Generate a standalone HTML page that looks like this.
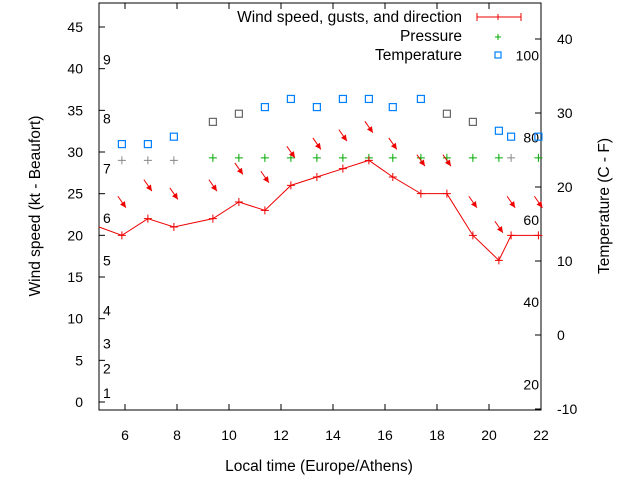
<!DOCTYPE html>
<html><head><meta charset="utf-8"><style>
body{margin:0;background:#fff}
svg{display:block;font-family:"Liberation Sans",sans-serif;font-size:14px}
.w{font-size:15.5px}
</style></head><body>
<svg id="chart" width="640" height="480" xmlns="http://www.w3.org/2000/svg">
<g id="axes"></g><g id="marks"></g>
</svg>
<script>
const hours=[5.88,6.88,7.88,9.38,10.38,11.38,12.38,13.38,14.38,15.38,16.3,17.38,18.38,19.38,20.38,20.85,21.9];
const wind=[20,22,21,22,24,23,26,27,28,29,27,25,25,20,17,20,20];
const gusts=[24,26,25,26,28,27,30,31,32,33,31,29,29,24,21,24,24];
const windDir=[325,325,325,325,325,325,325,325,325,325,325,325,325,325,325,325,325];
const pressure=[29.0,29.0,29.0,29.3,29.3,29.3,29.3,29.3,29.3,29.3,29.3,29.3,29.3,29.3,29.3,29.3,29.3];
const pressureGray=[1,1,1,0,0,0,0,0,0,0,0,0,0,0,0,1,0];
const temperature=[25.8,25.8,26.8,28.8,29.9,30.8,31.9,30.8,31.9,31.9,30.8,31.9,29.9,28.8,27.6,26.8,26.8];
const tempGray=[0,0,0,1,1,0,0,0,0,0,0,0,1,1,0,0,0];
const xTicks=[6,8,10,12,14,16,18,20,22];
const yTicks=[0,5,10,15,20,25,30,35,40,45];
const y2Ticks=[-10,0,10,20,30,40];
const beaufortLabels=["1","2","3","4","5","6","7","8","9"];
const beaufortPos=[1.1,4,7,11,17,22.1,28,34,41.1];
const fLabels=["20","40","60","80","100"];

const L=99,R=541,T=3,B=410;
const X=h=>L+(h-5)*26;
const Y=v=>402-v*8.333;
const Y2=v=>335-v*7.4;
const NS="http://www.w3.org/2000/svg";
const ax=document.getElementById('axes'),mk=document.getElementById('marks');
function el(p,tag,a,txt){const e=document.createElementNS(NS,tag);for(const k in a)e.setAttribute(k,a[k]);if(txt!==undefined)e.textContent=txt;p.appendChild(e);return e;}

let f=el(ax,'rect',{x:L,y:T,width:R-L,height:B-T,fill:'none',stroke:'#000','stroke-width':1});


xTicks.forEach(t=>{
  const x=X(t);
  el(ax,'line',{x1:x,y1:B,x2:x,y2:B-6,stroke:'#000'});
  el(ax,'line',{x1:x,y1:T,x2:x,y2:T+6,stroke:'#000'});
  const tx=el(ax,'text',{x:x,y:440,'text-anchor':'middle'},String(t));
  
  
});
yTicks.forEach(t=>{
  const y=Y(t);
  el(ax,'line',{x1:L,y1:y,x2:L+6,y2:y,stroke:'#000'});
  const tx=el(ax,'text',{x:83,y:y+5,'text-anchor':'end'},String(t));
  
  
});
y2Ticks.forEach(t=>{
  const y=Y2(t);
  el(ax,'line',{x1:R,y1:y,x2:R-6,y2:y,stroke:'#000'});
  const tx=el(ax,'text',{x:557,y:y+5},String(t));
  
  
});
beaufortLabels.forEach((s,i)=>{
  const tx=el(ax,'text',{x:103,y:Y(beaufortPos[i])+5},s);
  
  
});
fLabels.forEach(s=>{
  const c=(Number(s)-32)*5/9;
  const tx=el(ax,'text',{x:539,y:Y2(c)+5,'text-anchor':'end'},s);
  
  
});
let t1=el(ax,'text',{x:319,y:471,'text-anchor':'middle','class':'w'},'Local time (Europe/Athens)');


let t2=el(ax,'text',{x:40,y:206,'text-anchor':'middle','class':'w',transform:'rotate(-90 40 206)'},'Wind speed (kt - Beaufort)');


let t3=el(ax,'text',{x:609,y:206,'text-anchor':'middle','class':'w',transform:'rotate(-90 609 206)'},'Temperature (C - F)');



// legend
let lg=el(ax,'g',{});


el(lg,'text',{x:462,y:22,'text-anchor':'end','class':'w'},'Wind speed, gusts, and direction');
el(lg,'line',{x1:477,y1:17,x2:521,y2:17,stroke:'#e00'});
el(lg,'line',{x1:477,y1:13,x2:477,y2:21,stroke:'#e00'});
el(lg,'line',{x1:521,y1:13,x2:521,y2:21,stroke:'#e00'});
el(lg,'path',{d:'M495,17h6M498,14v6',stroke:'#e00'});
el(lg,'text',{x:462,y:41,'text-anchor':'end','class':'w'},'Pressure');
el(lg,'path',{d:'M495,37h6M498,34v6',stroke:'#0a0'});
el(lg,'text',{x:462,y:60,'text-anchor':'end','class':'w'},'Temperature');
el(lg,'rect',{x:495,y:52,width:6,height:6,fill:'none',stroke:'#0080ff','stroke-width':1.2});

// pressure
pressure.forEach((p,i)=>{
  const x=X(hours[i]),y=Y(p),c=pressureGray[i]?'#888':'#0a0';
  const m=el(mk,'path',{d:`M${x-4},${y}h8M${x},${y-4}v8`,stroke:c});
  
  
});
// temperature
temperature.forEach((t,i)=>{
  const x=X(hours[i]),y=Y2(t),c=tempGray[i]?'#666':'#0080ff';
  const m=el(mk,'rect',{x:x-3.5,y:y-3.5,width:7,height:7,fill:'none',stroke:c,'stroke-width':1.2});
  
  
});
// wind line
const wl=el(mk,'polyline',{points:[[L,Y(21)],...hours.map((h,i)=>[X(h),Y(wind[i])])].map(p=>p.join(',')).join(' '),fill:'none',stroke:'#e00'});


wind.forEach((w,i)=>{
  const x=X(hours[i]),y=Y(w);
  const m=el(mk,'path',{d:`M${x-4},${y}h8M${x},${y-4}v8`,stroke:'#e00'});
  
  
});
// gust arrows
gusts.forEach((g,i)=>{
  const cx=X(hours[i]),cy=Y(g);
  const a=(windDir[i]+180)*Math.PI/180;
  const dx=Math.sin(a),dy=-Math.cos(a);
  const x1=cx-dx*7,y1=cy-dy*7,x2=cx+dx*7,y2=cy+dy*7;
  const px=-dy,py=dx;
  const gr=el(mk,'g',{});
  
  
  el(gr,'line',{x1:x1,y1:y1,x2:x2,y2:y2,stroke:'#e00'});
  const hx=x2-dx*6,hy=y2-dy*6;
  el(gr,'polygon',{points:`${x2},${y2} ${hx+px*3},${hy+py*3} ${hx-px*3},${hy-py*3}`,fill:'#e00'});
});
</script>
</body></html>
